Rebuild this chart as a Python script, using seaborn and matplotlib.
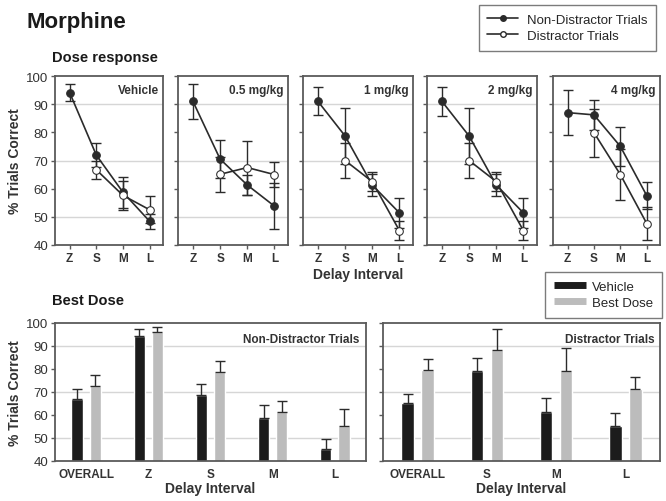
import numpy as np
import pandas as pd
import matplotlib
matplotlib.use('Agg')
import matplotlib.pyplot as plt
import seaborn as sns
from matplotlib.lines import Line2D

sns.set_theme(style='white')
plt.rcParams['font.family'] = ['Liberation Sans', 'DejaVu Sans']

# Dose response panels (top row)
delays = ['Z', 'S', 'M', 'L']
doses = ['Vehicle', '0.5 mg/kg', '1 mg/kg', '2 mg/kg', '4 mg/kg']
nd_mean = [[94.1, 71.9, 58.7, 48.4],
           [91.0, 70.5, 61.3, 53.8],
           [91.0, 78.7, 61.3, 51.4],
           [91.0, 78.7, 61.3, 51.4],
           [87.0, 86.2, 75.0, 57.5]]
nd_err = [[3.0, 4.3, 5.6, 2.7],
          [6.2, 6.7, 3.5, 8.2],
          [5.0, 9.8, 4.0, 5.3],
          [5.1, 9.8, 4.0, 5.3],
          [8.0, 5.3, 6.9, 4.7]]
dis_mean = [[np.nan, 66.7, 57.6, 52.5],
            [np.nan, 65.1, 67.5, 65.0],
            [np.nan, 70.0, 62.5, 45.1],
            [np.nan, 70.0, 62.5, 45.1],
            [np.nan, 79.9, 65.0, 47.6]]
dis_err = [[np.nan, 3.3, 5.0, 4.8],
           [np.nan, 6.2, 9.6, 4.5],
           [np.nan, 6.1, 3.5, 3.3],
           [np.nan, 6.1, 3.5, 3.3],
           [np.nan, 8.5, 9.2, 6.0]]

# Best dose panels (bottom row)
cats_nd = ['OVERALL', 'Z', 'S', 'M', 'L']
nd_vehicle = [67.0, 94.2, 68.9, 58.9, 45.1]
nd_vehicle_err = [4.4, 3.0, 4.5, 5.5, 4.3]
nd_best = [72.8, 96.1, 78.9, 61.3, 55.4]
nd_best_err = [4.4, 2.3, 4.4, 4.8, 7.2]
cats_d = ['OVERALL', 'S', 'M', 'L']
d_vehicle = [65.1, 79.2, 61.2, 55.2]
d_vehicle_err = [4.2, 5.5, 6.1, 5.6]
d_best = [79.7, 88.2, 79.2, 71.4]
d_best_err = [4.7, 9.0, 9.9, 5.3]

W, H = 666, 502
SPINE = '#5a5a5a'
LINE = '#2b2b2b'
BAR_COLORS = ['#1c1c1c', '#bcbcbc']


def px(l, t, r, b):
    return [l / W, 1 - b / H, (r - l) / W, (b - t) / H]


def style_axis(ax):
    for s in ax.spines.values():
        s.set_color(SPINE)
        s.set_linewidth(1.3)
    ax.set_ylim(40, 100)
    ax.set_yticks(range(40, 101, 10))
    for g in (50, 70, 90):
        ax.axhline(g, color='#d6d6d6', lw=1.0, zorder=0)
    ax.tick_params(axis='both', direction='out', length=3, width=1,
                   color=SPINE, pad=2, left=True, bottom=True)
    ax.tick_params(axis='y', labelsize=9.5, labelcolor='#333333')
    ax.tick_params(axis='x', labelsize=8.5, labelcolor='#333333')
    for lab in ax.get_xticklabels():
        lab.set_fontweight('bold')


fig = plt.figure(figsize=(W / 100, H / 100), dpi=100)

top_x = [(55, 163), (178, 288), (303, 413), (427, 537), (553, 660)]
xpos = np.arange(len(delays))
for i, dose in enumerate(doses):
    ax = fig.add_axes(px(top_x[i][0], 77, top_x[i][1], 246))
    df = pd.DataFrame({'x': np.concatenate([xpos, xpos]),
                       'y': nd_mean[i] + dis_mean[i],
                       'trial': ['Non-Distractor Trials'] * 4 + ['Distractor Trials'] * 4})
    ax.errorbar(xpos, nd_mean[i], yerr=nd_err[i], fmt='none', ecolor=LINE,
                elinewidth=1, capsize=3.5, capthick=1, zorder=2)
    ax.errorbar(xpos, dis_mean[i], yerr=dis_err[i], fmt='none', ecolor=LINE,
                elinewidth=1, capsize=3.5, capthick=1, zorder=2)
    sns.lineplot(data=df, x='x', y='y', hue='trial', style='trial',
                 palette=[LINE, LINE], markers=['o', 'o'], dashes=False,
                 linewidth=1.2, markersize=5.5, ax=ax, legend=False, zorder=3)
    # open markers for distractor trials
    ax.lines[-1].set_markerfacecolor('white')
    ax.lines[-1].set_markeredgecolor(LINE)
    ax.lines[-2].set_markerfacecolor(LINE)
    ax.lines[-2].set_markeredgecolor(LINE)
    ax.set_xlim(-0.55, 3.5)
    ax.set_xticks(xpos)
    ax.set_xticklabels(delays)
    style_axis(ax)
    ax.set_xlabel('')
    ax.set_ylabel('')
    ax.text(0.96, 0.95, dose, transform=ax.transAxes, ha='right', va='top',
            fontsize=8.5, fontweight='bold', color='#333333')
    if i == 0:
        ax.set_ylabel('% Trials Correct', fontsize=10, fontweight='bold',
                      color='#333333', labelpad=3)
    else:
        ax.set_yticklabels([])
    if i == 2:
        ax.set_xlabel('Delay Interval', fontsize=10, fontweight='bold',
                      color='#333333', labelpad=2)

# bottom row bars
bottom = [((55, 366), cats_nd, nd_vehicle, nd_vehicle_err, nd_best, nd_best_err,
           'Non-Distractor Trials', (-0.5, 4.5)),
          ((383, 660), cats_d, d_vehicle, d_vehicle_err, d_best, d_best_err,
           'Distractor Trials', (-0.5, 3.5))]
for j, (xr, cats, veh, veh_err, best, best_err, title, xl) in enumerate(bottom):
    ax = fig.add_axes(px(xr[0], 324, xr[1], 462))
    df = pd.DataFrame({'cat': cats + cats, 'val': veh + best,
                       'group': ['Vehicle'] * len(cats) + ['Best Dose'] * len(cats)})
    sns.barplot(data=df, x='cat', y='val', hue='group', palette=BAR_COLORS,
                width=0.58, gap=0.38, errorbar=None, legend=False, ax=ax,
                saturation=1, zorder=2)
    for cont, errs in zip(ax.containers, [veh_err, best_err]):
        xs = [p.get_x() + p.get_width() / 2 for p in cont]
        hs = [p.get_height() for p in cont]
        ax.errorbar(xs, hs, yerr=[np.zeros(len(errs)), errs], fmt='none',
                    ecolor=LINE, elinewidth=1, capsize=3.5, capthick=1, zorder=3)
    ax.set_xlim(*xl)
    style_axis(ax)
    ax.tick_params(axis='x', length=0, pad=5)
    ax.set_ylabel('')
    ax.set_xlabel('Delay Interval', fontsize=10, fontweight='bold',
                  color='#333333', labelpad=1)
    ax.text(0.98, 0.93, title, transform=ax.transAxes, ha='right', va='top',
            fontsize=8.5, fontweight='bold', color='#333333')
    if j == 0:
        ax.set_ylabel('% Trials Correct', fontsize=10, fontweight='bold',
                      color='#333333', labelpad=3)
    else:
        ax.set_yticklabels([])

# titles
fig.text(27 / W, 1 - 28 / H, 'Morphine', fontsize=16, fontweight='bold',
         color='#1a1a1a', va='baseline')
fig.text(52 / W, 1 - 62 / H, 'Dose response', fontsize=10.5, fontweight='bold',
         color='#1a1a1a', va='baseline')
fig.text(52 / W, 1 - 305 / H, 'Best Dose', fontsize=10.5, fontweight='bold',
         color='#1a1a1a', va='baseline')

# legends
h1 = [Line2D([], [], color=LINE, marker='o', markersize=4, lw=1.2,
             markerfacecolor=LINE, label='Non-Distractor Trials'),
      Line2D([], [], color=LINE, marker='o', markersize=4, lw=1.2,
             markerfacecolor='white', label='Distractor Trials')]
leg1 = fig.legend(handles=h1, loc='upper right', bbox_to_anchor=(656 / W, 1 - 6 / H),
                  fontsize=9.5, frameon=True, fancybox=False, handlelength=2.3,
                  handletextpad=0.7, borderpad=0.65, borderaxespad=0,
                  labelspacing=0.3)
leg1.get_frame().set_edgecolor(SPINE)
leg1.get_frame().set_linewidth(1.0)

h2 = [Line2D([], [], color=BAR_COLORS[0], lw=5, solid_capstyle='butt', label='Vehicle'),
      Line2D([], [], color=BAR_COLORS[1], lw=5, solid_capstyle='butt', label='Best Dose')]
leg2 = fig.legend(handles=h2, loc='upper right', bbox_to_anchor=(662 / W, 1 - 273 / H),
                  fontsize=9.5, frameon=True, fancybox=False, handlelength=2.4,
                  handletextpad=0.5, borderpad=0.65, borderaxespad=0,
                  labelspacing=0.3)
leg2.get_frame().set_edgecolor(SPINE)
leg2.get_frame().set_linewidth(1.0)

fig.savefig('out.png', dpi=100)
